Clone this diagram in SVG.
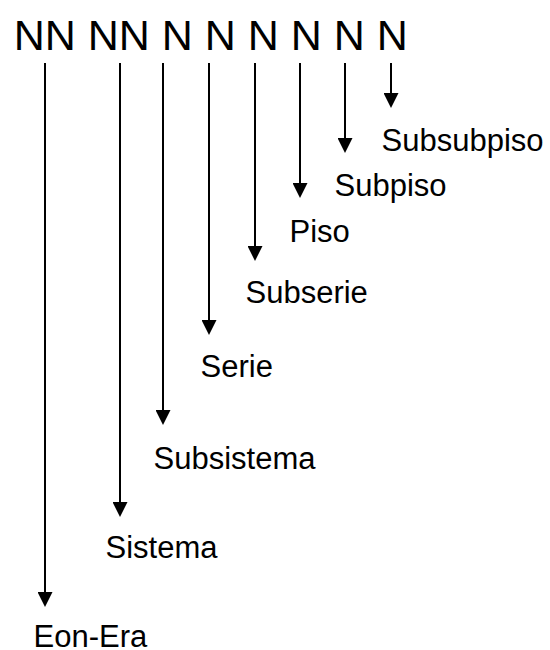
<svg xmlns="http://www.w3.org/2000/svg" width="550" height="650" viewBox="0 0 550 650">
  <style>
    text { font-family: "Liberation Sans", Arial, sans-serif; fill: #000; }
    .code { font-size: 43px; }
    .label { font-size: 31px; }
    .arrow { stroke: #000; stroke-width: 2; fill: none; marker-end: url(#head); }
  </style>
  <defs>
    <marker id="head" viewBox="0 0 15 15" markerWidth="15" markerHeight="15" markerUnits="userSpaceOnUse" refX="5" refY="7.5" orient="auto">
      <path d="M0,0 L15,7.5 L0,15 Z" fill="#000"/>
    </marker>
  </defs>

  <rect width="550" height="650" fill="#fff"/>

  <!-- code pattern -->
  <g id="code">
    <text class="code" x="13.7" y="50" xml:space="preserve">NN NN N N N N N N</text>
  </g>

  <!-- connectors -->
  <g id="connectors">
    <line class="arrow" x1="45" y1="63" x2="45" y2="597"/>
    <line class="arrow" x1="120" y1="63" x2="120" y2="507"/>
    <line class="arrow" x1="163" y1="63" x2="163" y2="415"/>
    <line class="arrow" x1="209" y1="63" x2="209" y2="325"/>
    <line class="arrow" x1="255" y1="63" x2="255" y2="251"/>
    <line class="arrow" x1="300" y1="63" x2="300" y2="188"/>
    <line class="arrow" x1="345" y1="63" x2="345" y2="143"/>
    <line class="arrow" x1="391" y1="63" x2="391" y2="98"/>
  </g>

  <!-- rank labels -->
  <g id="eon-era"><text class="label" x="33.5" y="647">Eon-Era</text></g>
  <g id="sistema"><text class="label" x="105.5" y="558">Sistema</text></g>
  <g id="subsistema"><text class="label" x="153.5" y="469">Subsistema</text></g>
  <g id="serie"><text class="label" x="200.5" y="377">Serie</text></g>
  <g id="subserie"><text class="label" x="245.5" y="303">Subserie</text></g>
  <g id="piso"><text class="label" x="289.5" y="242">Piso</text></g>
  <g id="subpiso"><text class="label" x="334.5" y="196">Subpiso</text></g>
  <g id="subsubpiso"><text class="label" x="381.5" y="151">Subsubpiso</text></g>
</svg>
